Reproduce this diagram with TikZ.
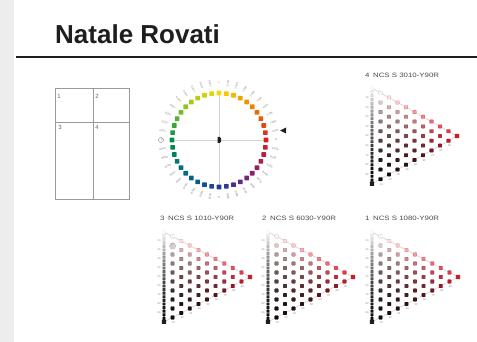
\documentclass[tikz,border=0pt]{standalone}
\usepackage{fontspec}
\setmainfont{Liberation Sans}
\setsansfont{Liberation Sans}
\usetikzlibrary{positioning,calc}
\usepackage{xcolor}
\definecolor{ink}{HTML}{1E1E1E}
\definecolor{frame}{HTML}{9A9A9A}
\definecolor{axis}{HTML}{D2D2D2}
\definecolor{margin}{HTML}{EDEDED}
\definecolor{hue}{HTML}{CC1A28}
\definecolor{cw0}{HTML}{F8D800}
\definecolor{cw1}{HTML}{F08000}
\definecolor{cw2}{HTML}{D81E24}
\definecolor{cw3}{HTML}{8A1E74}
\definecolor{cw4}{HTML}{1F3CA0}
\definecolor{cw5}{HTML}{006C84}
\definecolor{cw6}{HTML}{00904A}
\definecolor{cw7}{HTML}{8CC820}
\definecolor{cw8}{HTML}{F8D800}
\tikzset{
  heading/.style={font=\bfseries\fontsize{26}{28}\selectfont,text=ink,inner sep=0pt,anchor=base west},
  caption/.style={font=\fontsize{6.3}{7}\selectfont,text=ink!80,inner sep=0pt,anchor=base west},
  cellno/.style={font=\fontsize{6}{6}\selectfont,text=black!60,inner sep=0pt},
  tick/.style={font=\fontsize{2.6}{3}\selectfont,text=black!50,inner sep=0pt},
  chip/.style={rounded corners=0.5pt},
  guide/.style={draw=axis,line width=0.6pt},
  box/.style={draw=frame,line width=0.8pt}
}
% NCS triangle: name, left x, top y, width, height
\newcommand{\ncstri}[5]{%
  \coordinate (#1w) at (#2,#3);
  \coordinate (#1s) at (#2,#3+#5);
  \coordinate (#1c) at (#2+#4,#3+#5/2);
  \draw[guide] (#1w) -- (#1c) -- (#1s);
  \foreach \tv in {10,20,...,90}{
    \node[tick] (#1l\tv) at ({#2-5},{#3+\tv/100*#5}) {\tv};
    \node[tick] (#1b\tv) at ({#2+\tv/100*#4+1},{#3+#5-\tv/200*#5+5}) {\tv};
  }
  \foreach \sv in {0,4,...,100}{
    \pgfmathsetmacro\gv{0.95*(1-\sv/100)^1.7+0.05}
    \definecolor{dot}{rgb}{\gv,\gv,\gv}
    \filldraw[chip,fill=dot,draw=dot!80!black,line width=0.15pt] ({#2-1.4},{#3+\sv/100*#5-1.4}) rectangle ++(2.8,2.8);
  }
  \foreach \cv in {10,20,...,90}{
    \pgfmathtruncatemacro\smax{100-\cv}
    \foreach \sv in {0,10,...,\smax}{
      \pgfmathsetmacro\wv{(100-\sv-\cv)/100}
      \pgfmathsetmacro\lv{(1-\sv/100)^2}
      \pgfmathsetmacro\rv{\lv*(\wv+0.82*\cv/100)/(\wv+\cv/100)+0.06}
      \pgfmathsetmacro\gv{\lv*(\wv+0.08*\cv/100)/(\wv+\cv/100)+0.05}
      \pgfmathsetmacro\bv{\lv*(\wv+0.14*\cv/100)/(\wv+\cv/100)+0.05}
      \definecolor{dot}{rgb}{\rv,\gv,\bv}
      \filldraw[chip,fill=dot,draw=dot!75!black,line width=0.15pt] ({#2+\cv/100*#4-1.8},{#3+(\sv+\cv/2)/100*#5-1.8}) rectangle ++(3.6,3.6);
    }
  }
  \fill[hue,chip] ($(#1c)+(-2.2,-2.2)$) rectangle ++(4.4,4.4);
  \fill[ink,chip] ($(#1s)+(-2.2,-2.5)$) rectangle ++(4.4,4.4);
}
\begin{document}
\begin{tikzpicture}[x=1pt,y=-1pt]
\useasboundingbox (0,0) rectangle (477,342);
\fill[white] (0,0) rectangle (477,342);
\fill[margin] (0,0) rectangle (14,342);

% header
\node[heading] (title) at (55,44) {Natale Rovati};
\draw[ink,line width=2pt] (16,57) -- (477,57);

% page layout
\draw[box] (55,88) rectangle (129,199);
\draw[box] (55,122) -- (129,122);
\draw[box] (93,88) -- (93,199);
\node[cellno] (cell1) at (59,96) {1};
\node[cellno] (cell2) at (97,96) {2};
\node[cellno] (cell3) at (60,127) {3};
\node[cellno] (cell4) at (97,127) {4};

% hue circle
\draw[guide] (175,140) -- (263,140);
\draw[guide] (219,95) -- (219,186);
\foreach \k in {0,...,39}{
  \pgfmathtruncatemacro\seg{int(\k/5)}
  \pgfmathtruncatemacro\nxt{\seg+1}
  \pgfmathtruncatemacro\pct{100-20*(\k-5*\seg)}
  \colorlet{chipcol}{cw\seg!\pct!cw\nxt}
  \pgfmathsetmacro\ang{90-9*\k}
  \pgfmathsetmacro\rot{cos(\ang)<-0.01 ? \ang+180 : \ang}
  \pgfmathtruncatemacro\q{int(\k/10)}
  \pgfmathtruncatemacro\m{\k-10*\q}
  \def\hueA{\ifcase\q Y\or R\or B\or G\fi}
  \def\hueB{\ifcase\q R\or B\or G\or Y\fi}
  \fill[chipcol,chip] ({219+47*cos(\ang)-2.3},{140-47*sin(\ang)-2.3}) rectangle ++(4.6,4.6);
  \node[tick,rotate=\rot] (hl\k) at ({219+57*cos(\ang)},{140-57*sin(\ang)}) {\ifnum\m=0 \hueA\else\hueA\m0\hueB\fi};
}
\fill[ink] (217.5,137) -- (219.5,137) .. controls (221.8,137) and (221.8,143) .. (219.5,143) -- (217.5,143) -- cycle;
\draw[black!50,line width=0.4pt] (161,140) circle[radius=2.5];
\fill[ink] (280,130.5) -- (286,127.5) -- (286,133.5) -- cycle;

% nuance triangles
\node[caption] (cap4) at (365,77.5) {\scalebox{1.25}[1]{4\, NCS S 3010-Y90R}};
\ncstri{t4}{372}{88}{85}{96}
\node[caption] (cap3) at (160,221) {\scalebox{1.25}[1]{3\, NCS S 1010-Y90R}};
\ncstri{t3}{164}{232}{86}{90}
\draw[black!40,line width=0.4pt] (172.6,246) circle[radius=3];
\node[caption] (cap2) at (262,221) {\scalebox{1.25}[1]{2\, NCS S 6030-Y90R}};
\ncstri{t2}{268}{232}{85}{90}
\node[caption] (cap1) at (365,221) {\scalebox{1.25}[1]{1\, NCS S 1080-Y90R}};
\ncstri{t1}{372}{232}{86}{90}
\end{tikzpicture}
\end{document}
